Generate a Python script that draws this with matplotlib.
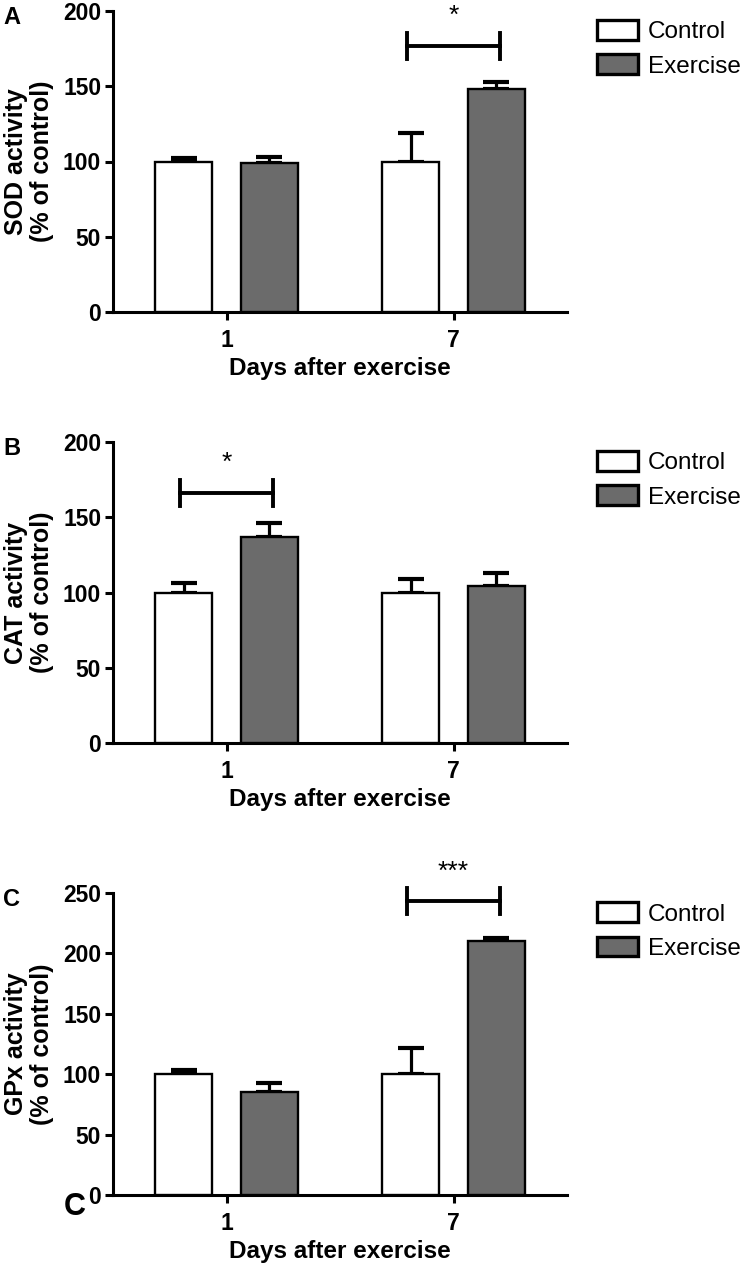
import numpy as np
import matplotlib
matplotlib.use("Agg")
import matplotlib.pyplot as plt

plt.rcParams['font.family'] = ['Liberation Sans', 'DejaVu Sans']

# Data (% of control)
days = ['1', '7']
groups = ['Control', 'Exercise']

sod_control = [100, 100]
sod_control_err = [2.5, 19]
sod_exercise = [99, 148]
sod_exercise_err = [4, 5]

cat_control = [100, 100]
cat_control_err = [6, 9]
cat_exercise = [137, 104]
cat_exercise_err = [9, 9]

gpx_control = [100, 100]
gpx_control_err = [3.5, 21.5]
gpx_exercise = [85, 210]
gpx_exercise_err = [8, 3]

# significance: (day index, bar height, label)
sod_sig = (1, 177, '*')
cat_sig = (0, 166, '*')
gpx_sig = (1, 243, '***')

panels = [
    ('A', 'SOD activity\n(% of control)', sod_control, sod_control_err,
     sod_exercise, sod_exercise_err, sod_sig, 200),
    ('B', 'CAT activity\n(% of control)', cat_control, cat_control_err,
     cat_exercise, cat_exercise_err, cat_sig, 200),
    ('C', 'GPx activity\n(% of control)', gpx_control, gpx_control_err,
     gpx_exercise, gpx_exercise_err, gpx_sig, 250),
]

W, H = 744, 1268
fig = plt.figure(figsize=(W / 100, H / 100), dpi=100)

# axes boxes in pixels: (top, bottom)
boxes = [(11, 312), (442, 743), (893, 1195)]
left_px, right_px = 113, 567

bar_w = 0.252
off = 0.188
ex_color = '#6b6b6b'
lw_axis = 2.2
lw_bar = 1.7

for (letter, ylabel, c, ce, e, ee, sig, ymax), (top, bot) in zip(panels, boxes):
    ax = fig.add_axes([left_px / W, 1 - bot / H, (right_px - left_px) / W, (bot - top) / H])
    x = np.arange(len(days))
    ax.bar(x - off, c, bar_w, color='white', edgecolor='black', linewidth=lw_bar,
           label=groups[0], zorder=3)
    ax.bar(x + off, e, bar_w, color=ex_color, edgecolor='black', linewidth=lw_bar,
           label=groups[1], zorder=3)
    ax.errorbar(x - off, c, yerr=[np.zeros(len(c)), ce], fmt='none', ecolor='black',
                elinewidth=2.3, capsize=9.5, capthick=3, zorder=2)
    ax.errorbar(x + off, e, yerr=[np.zeros(len(e)), ee], fmt='none', ecolor='black',
                elinewidth=2.3, capsize=9.5, capthick=3, zorder=2)

    ax.set_xlim(-0.5, 1.5)
    ax.set_ylim(0, ymax)
    ax.set_yticks(np.arange(0, ymax + 1, 50))
    ax.set_xticks(x)
    ax.set_xticklabels(days)
    for s in ['top', 'right']:
        ax.spines[s].set_visible(False)
    for s in ['left', 'bottom']:
        ax.spines[s].set_linewidth(lw_axis)
    ax.tick_params(axis='both', width=lw_axis, length=6, labelsize=16.5, direction='out')
    ax.tick_params(axis='y', pad=2.5)
    ax.tick_params(axis='x', pad=6.5)
    for lab in ax.get_xticklabels() + ax.get_yticklabels():
        lab.set_fontweight('bold')

    ax.set_ylabel(ylabel, fontsize=18, fontweight='bold', linespacing=1.12)
    ax.yaxis.set_label_coords(-0.13, 0.5)
    ax.set_xlabel('Days after exercise', fontsize=17.5, fontweight='bold')
    ax.xaxis.set_label_coords(0.5, -0.15)

    # significance bracket
    di, h, star = sig
    px_per_unit = (bot - top) / ymax
    cap = 13 / px_per_unit
    x0, x1 = di - 0.205, di + 0.205
    ax.plot([x0, x1], [h, h], color='black', lw=2.8, clip_on=False, zorder=4)
    ax.plot([x0, x0], [h - cap, h + cap], color='black', lw=2.8, clip_on=False, zorder=4)
    ax.plot([x1, x1], [h - cap, h + cap], color='black', lw=2.8, clip_on=False, zorder=4)
    ax.text(di, h + 18 / px_per_unit, star, ha='center', va='bottom', fontsize=19,
            clip_on=False)

    leg = ax.legend(loc='center left', bbox_to_anchor=(1.066, 0.874), frameon=False,
                    fontsize=17.5, handlelength=1.7, handleheight=0.88,
                    handletextpad=0.4, labelspacing=0.45, borderpad=0, borderaxespad=0)
    for p in leg.get_patches():
        p.set_linewidth(2.4)

    fig.text(3 / W, 1 - (top - 5) / H, letter, fontsize=17, fontweight='bold',
             ha='left', va='top')

# stray letter overlapping the last y-axis zero label, as in the source figure
fig.text(64 / W, 1 - 1215 / H, 'C', fontsize=22, fontweight='bold',
         ha='left', va='baseline')

fig.savefig('out.png', dpi=100)
